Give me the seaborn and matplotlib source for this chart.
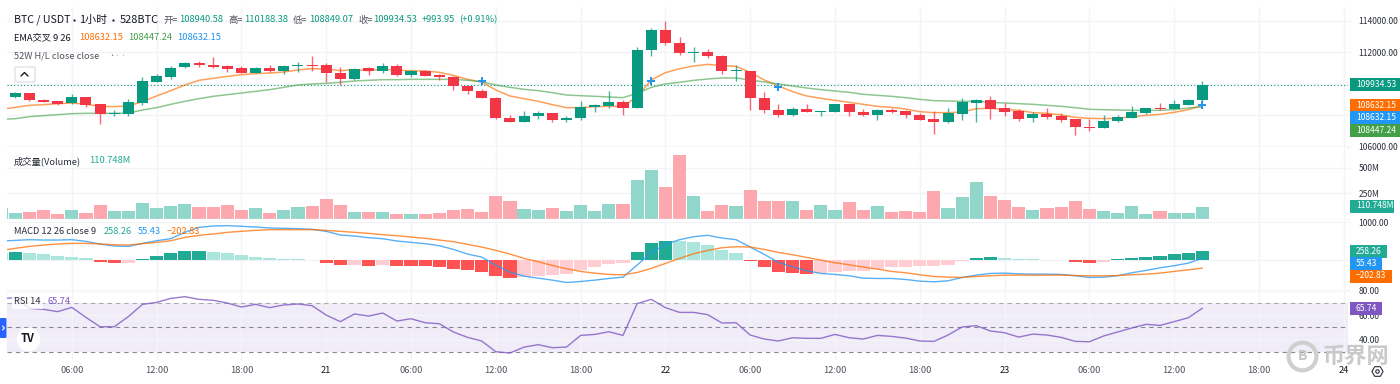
import numpy as np
import pandas as pd
import matplotlib
matplotlib.use("Agg")
import matplotlib.pyplot as plt
from matplotlib.lines import Line2D
from matplotlib.patches import FancyBboxPatch, Rectangle
import seaborn as sns

# hour slots, slot 0 is 02:00 on the 20th, slot -1 is cut off by the left edge
hours = list(range(-1, 85))

opens = [108800, 109133, 109387, 108964, 108879, 108752, 109133, 108689, 108096, 108096,
         108795, 110107, 110403, 111038, 111313, 111186, 111122, 110974, 110699, 111017,
         110826, 111122, 111186, 111165, 110678, 110276, 110974, 110784, 111122, 110572,
         110826, 110551, 110445, 109874, 109535, 109112, 107821, 107567, 107948, 108118,
         107716, 107800, 108541, 108562, 108837, 108477, 112138, 113386, 112561, 111969,
         111990, 111757, 110784, 110826, 109112, 108350, 107991, 108372, 108223, 108223,
         108689, 108202, 107991, 108350, 108245, 108012, 107737, 107546, 108096, 108795,
         108964, 108435, 108266, 107800, 108075, 107927, 107737, 107250, 107208, 107610,
         107842, 108160, 108456, 108393, 108647, 108940.58]
highs = [109300, 109493, 109408, 109006, 108922, 109366, 109155, 108689, 108329, 109028,
         110445, 110615, 111122, 111397, 111440, 111694, 111207, 111122, 111038, 111186,
         111207, 111397, 111736, 111292, 111038, 110995, 111080, 111292, 111249, 110868,
         110868, 110615, 110488, 109916, 109662, 109176, 108012, 108266, 108245, 108139,
         107927, 108879, 108710, 109535, 108943, 112307, 113535, 113958, 112942, 112307,
         112180, 111821, 111165, 110826, 109451, 108689, 108499, 108731, 108245, 108710,
         108710, 108393, 108372, 108435, 108329, 108118, 108245, 108456, 109070, 109028,
         109218, 108795, 108372, 108223, 108456, 108118, 107779, 107758, 108012, 108012,
         108562, 108477, 108773, 108964, 109006, 110188.38]
lows = [108700, 109070, 108879, 108816, 108647, 108710, 108520, 107461, 107948, 107948,
        108647, 110086, 110318, 110995, 111059, 110995, 110741, 110657, 110657, 110741,
        110615, 110763, 110826, 110128, 109916, 110234, 110572, 110699, 110488, 110424,
        110466, 110234, 109599, 109345, 109070, 107737, 107546, 107546, 107737, 107567,
        107589, 107673, 108223, 108477, 107991, 108477, 111757, 112455, 111842, 111376,
        111609, 110615, 110191, 108329, 108118, 107906, 107970, 108181, 107948, 108202,
        107948, 107970, 107694, 108118, 107842, 107694, 106806, 107504, 107694, 107589,
        107779, 107948, 107652, 107567, 107758, 107567, 106742, 106975, 107165, 107567,
        107821, 108096, 108350, 108372, 108626, 108849.07]
closes = [109100, 109408, 108943, 108858, 108731, 109155, 108668, 108096, 108160, 108837,
          110170, 110466, 111017, 111313, 111165, 111080, 110953, 110699, 110995, 110826,
          111144, 111186, 111122, 110657, 110276, 110953, 110805, 111122, 110572, 110826,
          110509, 110424, 109874, 109514, 109091, 107800, 107567, 107970, 108118, 107716,
          107821, 108541, 108626, 108837, 108477, 112138, 113386, 112561, 111926, 112011,
          111757, 110805, 110847, 109091, 108329, 107991, 108372, 108223, 108245, 108689,
          108181, 107991, 108350, 108223, 107991, 107716, 107546, 108118, 108837, 108964,
          108414, 108223, 107779, 108075, 107885, 107694, 107250, 107208, 107631, 107864,
          108202, 108456, 108393, 108689, 108964, 109934.53]

ema_fast = [108372, 108499, 108626, 108668, 108731, 108774, 108689, 108562, 108541, 108583,
            108858, 109218, 109557, 109916, 110212, 110339, 110466, 110572, 110636, 110678,
            110741, 110868, 110953, 110932, 110826, 110890, 110826, 110932, 110847, 110826,
            110805, 110720, 110530, 110276, 110107, 109599, 109218, 109049, 108879, 108668,
            108477, 108477, 108541, 108562, 108562, 109176, 110234, 110699, 110953, 111122,
            111228, 111144, 111101, 110720, 110234, 109853, 109493, 109218, 109070, 108943,
            108816, 108689, 108562, 108499, 108393, 108223, 108160, 108160, 108202, 108414,
            108435, 108372, 108308, 108160, 108118, 108012, 107864, 107800, 107779, 107800,
            107906, 107991, 108054, 108181, 108350, 108632.15]
ema_slow = [107737, 107779, 107906, 107970, 108033, 108096, 108118, 108118, 108118, 108139,
            108329, 108477, 108689, 108879, 109049, 109197, 109303, 109408, 109514, 109620,
            109768, 109916, 109980, 110022, 110086, 110170, 110212, 110255, 110255, 110276,
            110276, 110276, 110276, 110212, 110128, 109916, 109768, 109641, 109557, 109430,
            109281, 109239, 109197, 109155, 109112, 109387, 109768, 109980, 110086, 110212,
            110297, 110361, 110361, 110234, 110107, 109980, 109853, 109726, 109620, 109535,
            109451, 109324, 109260, 109197, 109112, 109006, 108922, 108901, 108879, 108879,
            108816, 108774, 108731, 108689, 108626, 108562, 108477, 108372, 108350, 108329,
            108308, 108308, 108308, 108350, 108456, 108520]
# where the blue crosses of the EMA cross sit
cross_hours = [33, 45, 54, 84]
cross_prices = [110150, 110150, 109810, 108670]

volume = [103, 50, 60, 80, 40, 80, 50, 137, 77, 77,
          150, 107, 120, 143, 110, 110, 130, 83, 100, 50,
          83, 110, 120, 197, 130, 60, 60, 60, 47, 40,
          40, 50, 80, 90, 60, 220, 170, 90, 80, 100,
          70, 130, 70, 140, 140, 376, 480, 310, 630, 226,
          77, 137, 120, 280, 170, 170, 170, 83, 130, 80,
          167, 80, 120, 60, 70, 60, 270, 100, 210, 360,
          220, 180, 110, 80, 100, 113, 173, 90, 77, 50,
          120, 47, 77, 50, 50, 110.748]

macd_hist = [200, 219, 193, 158, 114, 96, 61, -44, -79, -79,
             35, 114, 193, 237, 246, 219, 193, 140, 96, 61,
             35, 35, 9, -61, -123, -123, -140, -123, -140, -142,
             -158, -175, -219, -254, -298, -403, -456, -447, -412, -386,
             -351, -254, -175, -96, -79, 219, 456, 509, 505, 474,
             412, 272, 193, -17, -175, -307, -333, -351, -324, -307,
             -272, -272, -228, -175, -167, -149, -149, -114, -9, 61,
             88, 61, 35, 35, 18, 18, -35, -61, -35, 26,
             61, 96, 114, 167, 193, 258.26]
macd_line = [509, 526, 544, 535, 535, 544, 500, 430, 377, 368,
             447, 517, 570, 737, 868, 903, 912, 895, 877, 851,
             842, 833, 816, 763, 667, 640, 596, 570, 509, 474,
             439, 386, 289, 167, 88, -123, -307, -412, -465, -517,
             -579, -553, -517, -474, -439, -123, 210, 421, 544, 623,
             658, 588, 544, 351, 158, -53, -167, -272, -342, -368,
             -403, -465, -474, -474, -500, -544, -561, -535, -447, -386,
             -342, -333, -351, -360, -360, -368, -403, -447, -439, -403,
             -324, -263, -193, -140, -70, 55.43]
macd_signal = [263, 316, 368, 403, 430, 447, 447, 430, 412, 403,
               439, 474, 517, 605, 658, 693, 737, 763, 789, 807,
               807, 807, 807, 789, 763, 737, 710, 675, 649, 614,
               579, 535, 491, 421, 351, 263, 167, 53, -35, -132,
               -219, -289, -333, -368, -377, -316, -210, -79, 53, 175,
               263, 333, 360, 351, 289, 210, 149, 79, 9, -61,
               -114, -175, -228, -289, -324, -377, -421, -439, -447, -421,
               -403, -386, -386, -386, -386, -386, -395, -403, -403, -395,
               -377, -360, -333, -289, -246, -202.83]

rsi = [73.6, 74.4, 65.6, 64.8, 62.9, 66.4, 58.2, 50.5, 50.5, 58.8,
       68.9, 70.5, 73.8, 75.2, 73, 72.2, 70, 66.7, 68.9, 66.2,
       68.4, 69.2, 67.8, 60.1, 54.7, 61, 59.3, 61.8, 55.2, 57.1,
       53.8, 53, 46.2, 41.8, 38.8, 30, 28.9, 33.8, 35.8, 33.3,
       33.8, 43.4, 44.2, 46.4, 43.4, 69.5, 73, 66.2, 62.3, 62.3,
       60.4, 53.6, 53.8, 43.7, 40.4, 38.8, 41.5, 41, 41, 44.2,
       41.5, 40.4, 43.4, 42.6, 41.2, 38.8, 38.5, 43.7, 50.3, 51.4,
       47, 45.6, 42, 44.5, 43.7, 41.8, 38.5, 38.2, 42.9, 46.2,
       49.5, 52.5, 51.6, 54.7, 57.9, 65.74]

time_ticks = [4, 10, 16, 22, 28, 34, 40, 46, 52, 58, 64, 70, 76, 82, 88, 94]
time_labels = ["06:00", "12:00", "18:00", "21", "06:00", "12:00", "18:00", "22", "06:00",
               "12:00", "18:00", "23", "06:00", "12:00", "18:00", "24"]
price_ticks = [106000, 108000, 110000, 112000, 114000]
volume_ticks = [250, 500]
rsi_ticks = [40, 60, 80]

UP = "#089981"
DOWN = "#F23645"
GRID = "#F2F4F8"
SEP = "#E0E3EB"
TEXT = "#131722"
AXTEXT = "#2A2E39"
ORANGE = "#FF6D00"
BLUE = "#2196F3"
GREEN = "#43A047"
TEAL = "#22AB94"
PURPLE = "#7E57C2"

sns.set_theme(style="white")
plt.rcParams["font.family"] = ["Noto Sans CJK SC", "DejaVu Sans"]

fig = plt.figure(figsize=(14, 3.84), dpi=100, facecolor="white")


def px(x):
    return x / 1400


def py(y):
    return 1 - y / 384


def panel(top, bottom):
    return fig.add_axes([px(7), py(bottom), px(1341), (bottom - top) / 384])


ax_price = panel(7, 147)
ax_vol = panel(147, 218.5)
ax_macd = panel(218.5, 289.5)
ax_rsi = panel(289.5, 360)

df = pd.DataFrame({"hour": hours, "open": opens, "high": highs, "low": lows, "close": closes,
                   "fast": ema_fast, "slow": ema_slow, "volume": volume, "hist": macd_hist,
                   "macd": macd_line, "signal": macd_signal, "rsi": rsi})
df["up"] = df["close"] >= df["open"]

# candles
for _, c in df.iterrows():
    col = UP if c["up"] else DOWN
    ax_price.vlines(c["hour"], c["low"], c["high"], color=col, lw=1, alpha=0.75, zorder=3)
body_low = df[["open", "close"]].min(axis=1)
body_h = (df["close"] - df["open"]).abs().clip(lower=40)
ax_price.bar(df["hour"], body_h, bottom=body_low, width=0.78, linewidth=0,
             color=[UP if u else DOWN for u in df["up"]], zorder=4)

sns.lineplot(data=df, x="hour", y="fast", color=ORANGE, lw=1.1, alpha=0.65, ax=ax_price, zorder=2)
sns.lineplot(data=df, x="hour", y="slow", color=GREEN, lw=1.1, alpha=0.6, ax=ax_price, zorder=2)
ax_price.axhline(closes[-1], color=UP, lw=0.8, ls=(0, (1, 2)), zorder=1)
ax_price.scatter(cross_hours, cross_prices, marker="P", s=38, color=BLUE, linewidths=0, zorder=5)

# volume
df["vol_side"] = np.where(df["up"], "up", "down")
sns.barplot(data=df, x="hour", y="volume", hue="vol_side", native_scale=True, dodge=False,
            palette={"up": "#90D6CB", "down": "#FDA7AF"}, saturation=1, width=0.93, linewidth=0,
            legend=False, ax=ax_vol)

# macd histogram, colour follows sign and direction
prev = df["hist"].shift(1).fillna(df["hist"])
df["hist_kind"] = np.select(
    [(df["hist"] >= 0) & (df["hist"] > prev), df["hist"] >= 0, df["hist"] < prev],
    ["pos_up", "pos_down", "neg_down"], default="neg_up")
sns.barplot(data=df, x="hour", y="hist", hue="hist_kind", native_scale=True, dodge=False,
            palette={"pos_up": TEAL, "pos_down": "#ACE5DC", "neg_down": "#FF5252", "neg_up": "#FFCDD2"},
            saturation=1, width=0.93, linewidth=0, legend=False, ax=ax_macd)
sns.lineplot(data=df, x="hour", y="macd", color=BLUE, lw=1, alpha=0.75, ax=ax_macd, zorder=4)
sns.lineplot(data=df, x="hour", y="signal", color=ORANGE, lw=1, alpha=0.75, ax=ax_macd, zorder=4)

# rsi
ax_rsi.axhspan(30, 70, color=PURPLE, alpha=0.1, lw=0, zorder=0)
for level, col in [(70, "#A8ABB3"), (50, "#868993"), (30, "#868993")]:
    ax_rsi.axhline(level, color=col, lw=0.8, ls=(0, (4, 3.5)), zorder=2)
sns.lineplot(data=df, x="hour", y="rsi", color=PURPLE, lw=1, alpha=0.8, ax=ax_rsi, zorder=3)

limits = {ax_price: (105980, 114868), ax_vol: (0, 705), ax_macd: (-763, 1100), ax_rsi: (23.2, 81.1)}
y_ticks = {ax_price: price_ticks, ax_vol: volume_ticks, ax_macd: [0, 1000], ax_rsi: rsi_ticks}
y_labels = {ax_price: [f"{t}.00" for t in price_ticks], ax_vol: [f"{t}M" for t in volume_ticks],
            ax_macd: ["0.00", "1000.00"], ax_rsi: [f"{t}.00" for t in rsi_ticks]}

for ax in [ax_price, ax_vol, ax_macd, ax_rsi]:
    ax.set_xlim(-0.587, 94.3)
    ax.set_ylim(*limits[ax])
    ax.set_xlabel("")
    ax.set_ylabel("")
    ax.set_facecolor("white")
    ax.set_axisbelow(True)
    ax.grid(True, color=GRID, lw=1)
    ax.yaxis.tick_right()
    ax.set_yticks(y_ticks[ax])
    ax.set_yticklabels(y_labels[ax], fontsize=6.1, color=AXTEXT)
    ax.tick_params(axis="y", length=2, width=1, color=GRID, pad=5.5, right=True)
    ax.set_xticks(time_ticks)
    ax.tick_params(axis="x", length=0)
    for side in ["top", "left", "right"]:
        ax.spines[side].set_visible(False)
    ax.spines["bottom"].set_color(SEP)
    ax.spines["bottom"].set_linewidth(1)
    if ax is not ax_rsi:
        ax.set_xticklabels([])

ax_rsi.spines["bottom"].set_visible(False)
ax_rsi.set_xticklabels(time_labels, fontsize=6.7, color="#50535E")
ax_rsi.tick_params(axis="x", pad=4.5)
for lab in ax_rsi.get_xticklabels():
    if ":" not in lab.get_text():
        lab.set_color(TEXT)


def label(x, y, text, color=TEXT, size=6.7, **kw):
    fig.text(px(x), py(y), text, color=color, fontsize=size, va="center", ha="left", **kw)


def tag(y, text, color, right):
    fig.add_artist(Rectangle((px(1350), py(y + 6.5)), px(right - 1350), 13 / 384,
                             transform=fig.transFigure, fc=color, ec="none"))
    label(1356, y, text, color="white", size=6.1)


# header rows, the title is split because the CJK dot is full width
label(14, 20, "BTC / USDT", size=7.6)
label(79, 20, "1小时", size=7.9)
label(120, 20, "528BTC", size=7.9)
for x in [73.5, 113]:
    fig.add_artist(Line2D([px(x)], [py(20)], marker="o", ms=1.6, color=TEXT, mec="none"))
for x, t in [(163, "开="), (228, "高="), (293, "低="), (358, "收=")]:
    label(x, 20, t, color="#50535E")
for x, t in [(179, "108940.58"), (244, "110188.38"), (309, "108849.07"), (373, "109934.53"),
             (422, "+993.95"), (459, "(+0.91%)")]:
    label(x, 20, t, color=UP)
label(14, 38, "EMA交叉 9 26", color=TEXT)
label(79, 38, "108632.15", color=ORANGE)
label(128, 38, "108447.24", color=GREEN)
label(177, 38, "108632.15", color=BLUE)
label(14, 56, "52W H/L close close", color="#50535E")
label(108, 56, "•", color="#787B86", size=5)
label(113, 56, "••", color="#C0C3CC", size=5)
label(14, 161, "成交量(Volume)", color="#2A2E39")
label(89, 161, "110.748M", color=TEAL)
label(14, 232, "MACD 12 26 close 9", color="#2A2E39")
label(104, 232, "258.26", color=TEAL)
label(138, 232, "55.43", color=BLUE)
label(167, 232, "−202.83", color=ORANGE)
label(14, 302, "RSI 14", color="#2A2E39", bbox=dict(fc="white", ec="none", alpha=0.8, pad=1.5))
label(47, 302, "65.74", color=PURPLE)

# price tags on the right axis
tag(84.5, "109934.53", UP, 1400)
tag(105, "108632.15", ORANGE, 1400)
tag(117.5, "108632.15", BLUE, 1400)
tag(130.5, "108447.24", GREEN, 1400)
tag(206, "110.748M", TEAL, 1394)
tag(251, "258.26", TEAL, 1387)
tag(263.5, "55.43", BLUE, 1382)
tag(276, "−202.83", ORANGE, 1392)
tag(308.5, "65.74", PURPLE, 1382)

# chart furniture: collapse button, side handle, logo, settings icon
fig.add_artist(FancyBboxPatch((px(15), py(82)), px(20), 15 / 384, transform=fig.transFigure,
                              boxstyle="round,pad=0,rounding_size=0.001", fc="white", ec=SEP, lw=1))
fig.add_artist(Line2D([px(21), px(24.5), px(28)], [py(76), py(72.5), py(76)], color=TEXT, lw=1))
fig.add_artist(FancyBboxPatch((px(0), py(338)), px(6.5), 20 / 384, transform=fig.transFigure,
                              boxstyle="round,pad=0,rounding_size=0.001", fc="#2962FF", ec="none"))
fig.add_artist(Line2D([px(2.5), px(4.5), px(2.5)], [py(326), py(328), py(330)], color="white", lw=0.8))
fig.add_artist(Line2D([px(28)], [py(339)], marker="o", ms=17, color="white", mec="none"))
fig.text(px(28), py(339), "TV", fontsize=8, fontweight="bold", color=TEXT, ha="center", va="center")
fig.add_artist(Line2D([px(1377)], [py(371)], marker="H", ms=8, mfc="none", mec=AXTEXT, mew=0.8))
fig.add_artist(Line2D([px(1377)], [py(371)], marker="o", ms=2.5, mfc="none", mec=AXTEXT, mew=0.8))

# site watermark bottom right
fig.add_artist(Line2D([px(1302)], [py(356)], marker="o", ms=20, mfc="none", mec="#CFCFCF", mew=3))
fig.text(px(1302), py(356), "B", fontsize=10, fontweight="bold", color="#C4C4C4", ha="center", va="center")
fig.text(px(1322), py(356), "币界网", fontsize=16, fontweight="bold", color="#C9C9C9", ha="left", va="center")

fig.savefig("out.png", dpi=100)
